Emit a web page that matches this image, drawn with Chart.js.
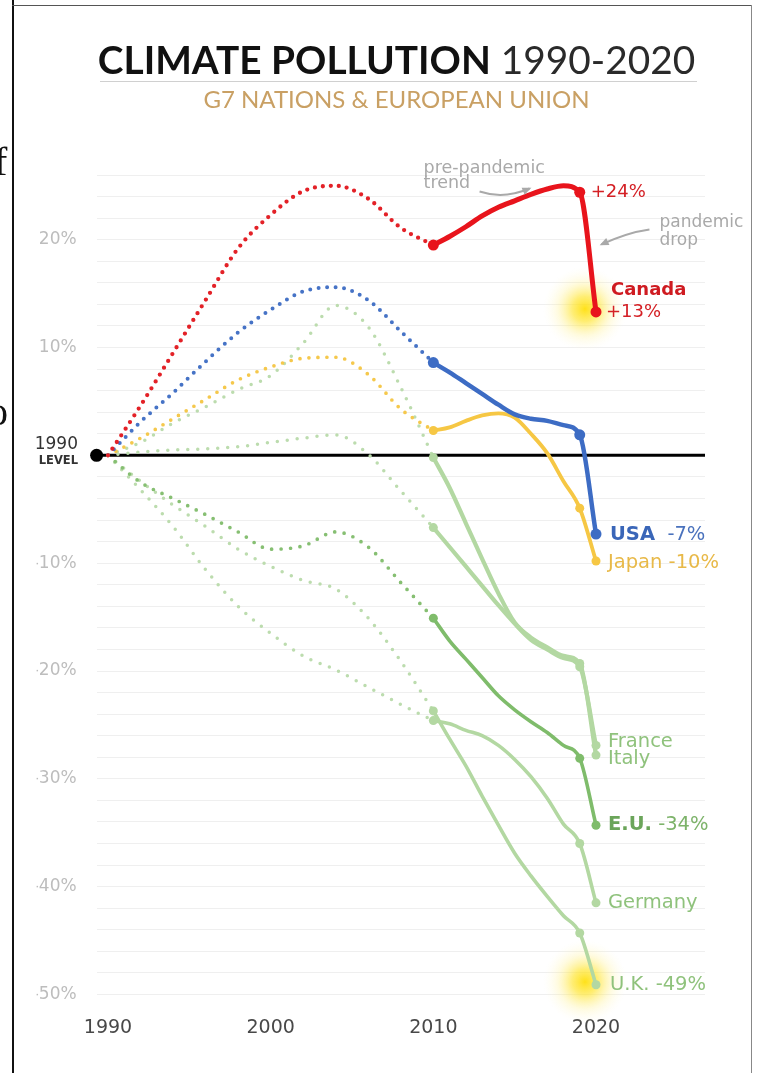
<!DOCTYPE html>
<html lang="en">
<head>
    <meta charset="UTF-8">
    <title>Climate Pollution 1990-2020</title>
    <script src="https://cdn.jsdelivr.net/npm/chart.js"></script>
    <style>
        html, body { margin: 0; padding: 0; background: #fff; overflow: hidden; }
        #wrap { position: relative; width: 762px; height: 1073px; }
        #chart-box { position: absolute; left: 0; top: 0; width: 762px; height: 1073px; }
        .frame-l { position: absolute; left: 12px; top: 0; width: 2px; height: 1073px; background: #111; }
        .frame-t { position: absolute; left: 12px; top: 5px; width: 740px; height: 1px; background: #555; }
        .frame-r { position: absolute; left: 751px; top: 5px; width: 1px; height: 1068px; background: #888; }
        .stray { position: absolute; font: 40px "Liberation Serif"; color: #111; }
        h1 { position: absolute; left: 96px; width: 601px; top: 36px; margin: 0; text-align: center;
             font: 400 38.8px Lato; color: #2a2a2a; white-space: nowrap; }
        h1 b { font-weight: 700; color: #111; }
        .rule { position: absolute; left: 100px; width: 597px; top: 81px; border-top: 1.5px solid #d0d0d0; }
        h2 { position: absolute; left: 98px; width: 597px; top: 84px; margin: 0; text-align: center;
             font: 400 24px Lato; color: #c9a064; white-space: nowrap; }
    </style>
</head>
<body>
<div id="wrap">
    <div id="chart-box"><canvas id="pollutionChart"></canvas></div>
    <div class="frame-l"></div>
    <div class="frame-t"></div>
    <div class="frame-r"></div>
    <div class="stray" style="left:-6px; top:138px;">f</div>
    <div class="stray" style="left:-12px; top:388px;">o</div>
    <h1><b>CLIMATE POLLUTION</b> 1990-2020</h1>
    <div class="rule"></div>
    <h2>G7 NATIONS &amp; EUROPEAN UNION</h2>
</div>

<script>
    // change vs 1990 level, in %
    const xTicks = [1990, 2000, 2010, 2020];
    const trendYears = [1990, 1992, 1994, 1996, 1998, 2000, 2002, 2004, 2006, 2008, 2010];
    const recentYears = [2010, 2011, 2012, 2013, 2014, 2015, 2016, 2017, 2018, 2019, 2020];

    // dotted part 1990-2010
    const canadaTrend  = [0, 4.6, 9.5, 14.4, 19.2, 22.3, 24.5, 25.0, 23.8, 21.1, 19.5];
    const usaTrend     = [0, 3.1, 5.8, 8.7, 11.4, 13.5, 15.2, 15.6, 14.4, 11.5, 8.6];
    const japanTrend   = [0, 1.6, 3.4, 5.2, 7.0, 8.2, 9.0, 9.1, 7.5, 4.3, 2.3];
    const italyTrend   = [0, 1.2, 3.0, 4.5, 6.1, 7.4, 10.4, 13.9, 11.9, 6.3, -0.2];
    const franceTrend  = [0, 0.3, 0.5, 0.6, 0.8, 1.2, 1.6, 1.9, 0.1, -3.3, -6.7];
    const euTrend      = [0, -2.5, -4.0, -5.5, -7.1, -8.7, -8.4, -7.1, -8.5, -11.8, -15.1];
    const germanyTrend = [0, -3.2, -6.6, -10.6, -14.0, -16.5, -18.6, -19.9, -21.5, -23.1, -24.6];
    const ukTrend      = [0, -2.4, -4.6, -6.6, -8.7, -10.3, -11.6, -12.4, -15.1, -19.1, -23.7];

    // solid part 2010-2020
    const canada  = [19.5, 20.3, 21.2, 22.2, 23.0, 23.6, 24.2, 24.7, 25.0, 24.4, 13.3];
    const usa     = [8.6, 7.7, 6.7, 5.7, 4.7, 3.8, 3.4, 3.2, 2.8, 1.9, -7.3];
    const japan   = [2.3, 2.6, 3.2, 3.7, 3.9, 3.5, 2.0, 0.2, -2.4, -4.9, -9.8];
    const italy   = [-0.2, -3.0, -6.3, -9.6, -12.8, -15.5, -16.9, -17.8, -18.6, -19.3, -27.8];
    const france  = [-6.7, -8.5, -10.3, -12.1, -13.9, -15.6, -17.1, -18.0, -18.8, -19.6, -26.9];
    const eu      = [-15.1, -17.2, -18.9, -20.6, -22.3, -23.6, -24.7, -25.7, -26.9, -28.1, -34.3];
    const germany = [-24.6, -24.9, -25.5, -26.0, -26.9, -28.2, -29.8, -31.8, -34.2, -36.0, -41.5];
    const uk      = [-23.7, -26.3, -28.8, -31.6, -34.3, -36.9, -39.0, -40.9, -42.7, -44.3, -49.1];

    const xMin = 1989.3, xMax = 2026.7, yMin = -50, yMax = 26;
    const markIdx = [0, 9, 10]; // 2010, 2019, 2020

    const pts = (years, vals) => years.map((x, i) => ({ x: x, y: vals[i] }));

    function solid(key, vals, color, width, radius) {
        return {
            key: key, data: pts(recentYears, vals), borderColor: color, backgroundColor: color,
            borderWidth: width, borderCapStyle: 'round', borderJoinStyle: 'round',
            cubicInterpolationMode: 'monotone', fill: false,
            pointRadius: c => markIdx.includes(c.dataIndex) ? radius : 0,
            pointBorderWidth: 0, pointBackgroundColor: color
        };
    }
    function dotted(vals, color, width, gap) {
        return {
            data: pts(trendYears, vals), borderColor: color, borderWidth: width,
            borderDash: [0, gap], borderCapStyle: 'round', cubicInterpolationMode: 'monotone',
            pointRadius: 0, fill: false
        };
    }

    const lightGreen = '#b3d8a2';
    const datasets = [
        solid('canada', canada, '#e8141c', 5, 5.5),
        dotted(canadaTrend, '#e32127', 4.3, 8),
        solid('usa', usa, '#3d6cc4', 4.5, 5.5),
        dotted(usaTrend, '#4673c6', 4, 8.5),
        solid('japan', japan, '#f6c744', 3.8, 4.5),
        dotted(japanTrend, '#f5c84c', 3.7, 9),
        solid('eu', eu, '#7fbc6b', 3.6, 4.5),
        dotted(euTrend, '#86bf72', 3.7, 9.5),
        solid('france', france, lightGreen, 4.2, 4.5),
        dotted(franceTrend, '#bcdcae', 3.5, 10),
        solid('italy', italy, lightGreen, 4.2, 4.5),
        dotted(italyTrend, '#bcdcae', 3.5, 10),
        solid('germany', germany, lightGreen, 3.6, 4.5),
        dotted(germanyTrend, '#bcdcae', 3.5, 10),
        solid('uk', uk, lightGreen, 3.6, 4.5),
        dotted(ukTrend, '#bcdcae', 3.5, 10),
        {   // 1990 level
            data: [{ x: xMin, y: 0 }, { x: xMax, y: 0 }], borderColor: '#000', borderWidth: 3,
            pointRadius: [6.5, 0], pointBackgroundColor: '#000', pointBorderWidth: 0, clip: false
        }
    ];

    // end-of-line labels: [dataset key, point index, dx, dy, parts]
    const labels = [
        ['canada', 9, 11, 0, [['+24%', '400', '#d42025']]],
        ['canada', 10, 15, -22, [['Canada', 'bold', '#cf1b21']]],
        ['canada', 10, 10, 0, [['+13%', '400', '#d42025']]],
        ['usa', 10, 14, 1, [['USA', 'bold', '#3a66b8'], ['  -7%', '400', '#4a72bd']]],
        ['japan', 10, 12, 2, [['Japan -10%', '400', '#e8b948']]],
        ['france', 10, 12, -3, [['France', '400', '#8fc27c']]],
        ['italy', 10, 12, 4, [['Italy', '400', '#8fc27c']]],
        ['eu', 10, 12, 0, [['E.U.', 'bold', '#6ba55a'], [' -34%', '400', '#7db36a']]],
        ['germany', 10, 12, 0, [['Germany', '400', '#8fc27c']]],
        ['uk', 10, 14, 0, [['U.K. -49%', '400', '#8fc27c']]]
    ];
    const glowAt = ['canada', 'uk'];

    function metaOf(chart, key) {
        const i = chart.data.datasets.findIndex(d => d.key === key);
        return chart.getDatasetMeta(i);
    }

    function arrow(ctx, x0, y0, cx, cy, x1, y1) {
        ctx.beginPath();
        ctx.moveTo(x0, y0);
        ctx.quadraticCurveTo(cx, cy, x1, y1);
        ctx.stroke();
        const a = Math.atan2(y1 - cy, x1 - cx);
        ctx.beginPath();
        ctx.moveTo(x1 + 2 * Math.cos(a), y1 + 2 * Math.sin(a));
        ctx.lineTo(x1 - 8 * Math.cos(a - 0.5), y1 - 8 * Math.sin(a - 0.5));
        ctx.lineTo(x1 - 8 * Math.cos(a + 0.5), y1 - 8 * Math.sin(a + 0.5));
        ctx.closePath();
        ctx.fill();
    }

    const decor = {
        id: 'decor',
        beforeDatasetsDraw(chart) {
            const ctx = chart.ctx;
            glowAt.forEach(key => {
                const m = metaOf(chart, key);
                const p = m.data[m.data.length - 1];
                const cx = p.x - 11, cy = p.y - 3, r = 42;
                const g = ctx.createRadialGradient(cx, cy, 0, cx, cy, r);
                g.addColorStop(0, 'rgba(255,222,0,0.9)');
                g.addColorStop(0.3, 'rgba(255,228,40,0.65)');
                g.addColorStop(0.65, 'rgba(255,240,140,0.28)');
                g.addColorStop(1, 'rgba(255,250,220,0)');
                ctx.save();
                ctx.fillStyle = g;
                ctx.beginPath();
                ctx.arc(cx, cy, r, 0, Math.PI * 2);
                ctx.fill();
                ctx.restore();
            });
        },
        afterDatasetsDraw(chart) {
            const ctx = chart.ctx;
            const xs = chart.scales.x, ys = chart.scales.y;
            ctx.save();
            ctx.textBaseline = 'middle';
            ctx.textAlign = 'left';

            labels.forEach(([key, idx, dx, dy, parts]) => {
                const p = metaOf(chart, key).data[idx];
                let x = p.x + dx;
                const size = key === 'canada' ? 18 : 19.5;
                parts.forEach(([txt, weight, color]) => {
                    ctx.font = weight + ' ' + size + 'px "DejaVu Sans"';
                    ctx.fillStyle = color;
                    ctx.fillText(txt, x, p.y + dy);
                    x += ctx.measureText(txt).width;
                });
            });

            // 1990 level label
            const y0 = ys.getPixelForValue(0);
            ctx.textAlign = 'right';
            ctx.fillStyle = '#333';
            ctx.font = '400 17px "DejaVu Sans"';
            ctx.fillText('1990', 78, y0 - 11);
            ctx.font = 'bold 11.5px "DejaVu Sans"';
            ctx.fillText('LEVEL', 78, y0 + 6);

            // notes
            ctx.textAlign = 'left';
            ctx.fillStyle = '#a9a9a9';
            ctx.strokeStyle = '#a9a9a9';
            ctx.lineWidth = 2;
            ctx.font = '400 17.5px "DejaVu Sans"';
            const nx = xs.getPixelForValue(2009.4), ny = ys.getPixelForValue(26.6);
            ctx.fillText('pre-pandemic', nx, ny);
            ctx.fillText('trend', nx, ny + 15);
            arrow(ctx, nx + 56, ny + 23, nx + 80, ny + 31, nx + 106, ny + 20);

            ctx.font = '400 17px "DejaVu Sans"';
            const px = xs.getPixelForValue(2023.9), py = ys.getPixelForValue(21.6);
            ctx.fillText('pandemic', px, py);
            ctx.fillText('drop', px, py + 18);
            arrow(ctx, px - 10, py + 7, px - 32, py + 10, px - 58, py + 22);
            ctx.restore();
        }
    };

    Chart.defaults.font.family = '"DejaVu Sans"';

    new Chart(document.getElementById('pollutionChart'), {
        type: 'line',
        data: { datasets: datasets },
        plugins: [decor],
        options: {
            responsive: true,
            maintainAspectRatio: false,
            animation: false,
            layout: { padding: { top: 175, right: 57, left: 36.6, bottom: 0 } },
            plugins: { legend: { display: false }, tooltip: { enabled: false } },
            scales: {
                x: {
                    type: 'linear', min: xMin, max: xMax,
                    grid: { display: false }, border: { display: false },
                    afterBuildTicks: axis => { axis.ticks = xTicks.map(v => ({ value: v })); },
                    afterFit: scale => { scale.height = 78.5; },
                    ticks: { callback: v => String(v), color: '#484848', padding: 14,
                             font: { size: 19 }, maxRotation: 0, autoSkip: false }
                },
                y: {
                    min: yMin, max: yMax,
                    border: { display: false },
                    grid: { drawTicks: false, lineWidth: 1,
                            color: c => c.tick && c.tick.value === 0 ? 'rgba(0,0,0,0)' : '#efefef' },
                    afterFit: scale => { scale.width = 60; },
                    ticks: { stepSize: 2, padding: 20, color: '#bdbdbd', font: { size: 17 }, autoSkip: false,
                             callback: v => (v % 10 === 0 && v !== 0) ? v + '%' : '' }
                }
            }
        }
    });
</script>
</body>
</html>
